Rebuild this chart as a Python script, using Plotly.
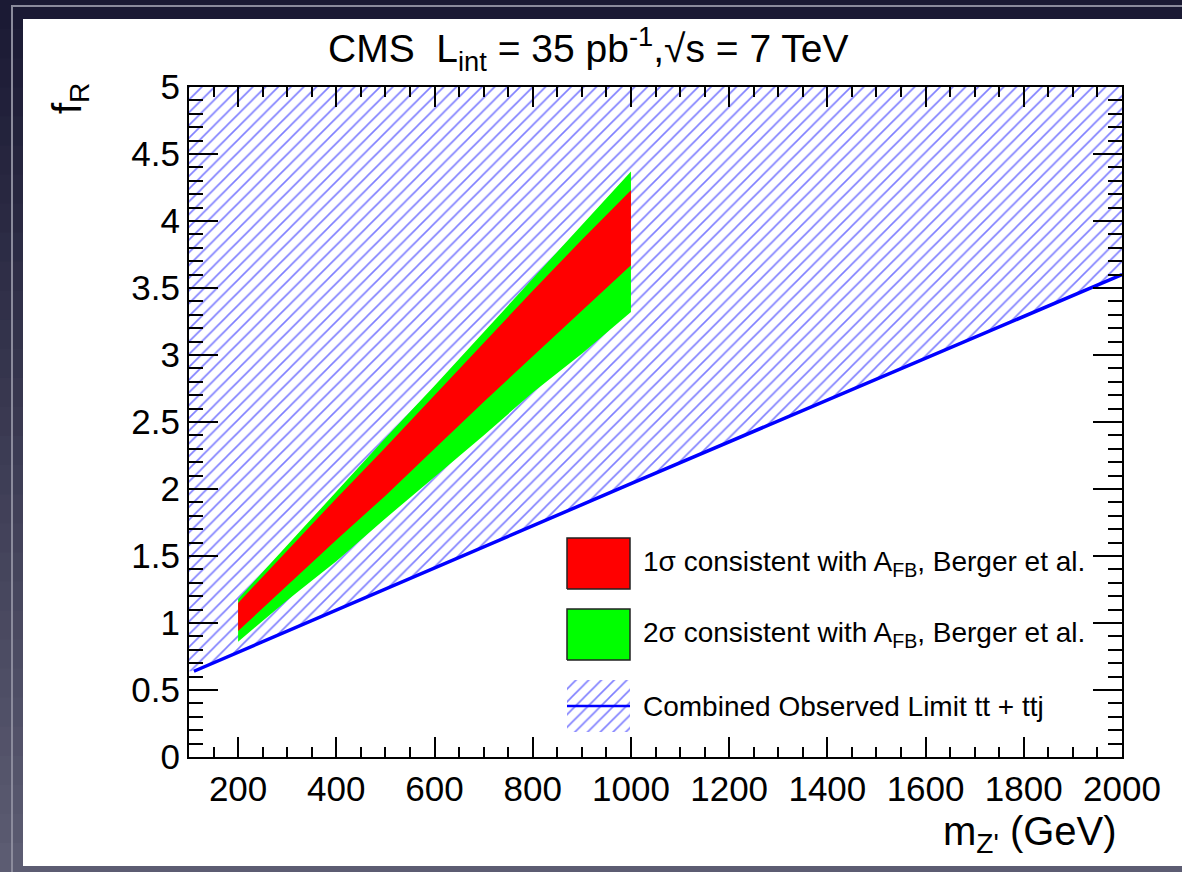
import plotly.graph_objects as go

# ---------------- data ----------------
mass = [200, 300, 400, 500, 600, 700, 800, 900, 1000]
two_sigma_hi = [1.18, 1.58, 1.98, 2.38, 2.77, 3.17, 3.57, 3.97, 4.37]
one_sigma_hi = [1.15, 1.54, 1.93, 2.31, 2.70, 3.09, 3.48, 3.86, 4.23]
one_sigma_lo = [0.94, 1.28, 1.62, 1.95, 2.30, 2.65, 2.99, 3.33, 3.67]
two_sigma_lo = [0.86, 1.17, 1.46, 1.78, 2.09, 2.40, 2.72, 3.01, 3.32]

limit_mass = [110, 1000, 2000]
limit_fr = [0.64, 2.04, 3.60]

x_range = [100, 2000]
y_range = [0, 5]

legend_labels = [
    "1\u03c3 consistent with A<sub>FB</sub>, Berger et al.",
    "2\u03c3 consistent with A<sub>FB</sub>, Berger et al.",
    "Combined Observed Limit tt + ttj",
]
title_text = "CMS  L<sub>int</sub> = 35 pb<sup>-1</sup>,\u221As = 7 TeV"
x_title = "m<sub>Z'</sub> (GeV)"
y_title = "f<sub>R</sub>"

# ---------------- layout geometry ----------------
W_FIG, H_FIG = 1182, 872
L, R, T, B = 189, 1122, 87, 757
PW, PH = R - L, B - T
FONT = "Liberation Sans, Arial, Helvetica, sans-serif"
HATCH = dict(shape="/", fgcolor="#0000ff", bgcolor="rgba(0,0,0,0)", size=9, solidity=0.18)


def fx(p):
    return (p - L) / PW


def fy(p):
    return (B - p) / PH


fig = go.Figure()

# excluded (hatched) region above the observed limit
fig.add_trace(go.Scatter(
    x=[x_range[0]] + limit_mass + [x_range[1], x_range[0]],
    y=[limit_fr[0]] + limit_fr + [y_range[1], y_range[1]],
    fill="toself", fillcolor="rgba(0,0,0,0)", fillpattern=HATCH,
    mode="lines", line=dict(width=0), hoverinfo="skip", showlegend=False))

# 2 sigma band
fig.add_trace(go.Scatter(
    x=mass + mass[::-1], y=two_sigma_hi + two_sigma_lo[::-1],
    fill="toself", fillcolor="#00ff00", mode="lines", line=dict(width=0),
    showlegend=False))
# 1 sigma band
fig.add_trace(go.Scatter(
    x=mass + mass[::-1], y=one_sigma_hi + one_sigma_lo[::-1],
    fill="toself", fillcolor="#ff0000", mode="lines", line=dict(width=0),
    showlegend=False))
# limit line
fig.add_trace(go.Scatter(
    x=limit_mass, y=limit_fr, mode="lines",
    line=dict(color="#0000ff", width=3.5), showlegend=False))

# ---------------- custom legend (overlay axes, unit coords) ----------------
box_x0, box_x1 = fx(567), fx(630)
rows = [(538, 589), (609, 660), (680, 732)]
fills = ["#ff0000", "#00ff00", None]
for (ya, yb), col, lab in zip(rows, fills, legend_labels):
    y0, y1 = fy(yb), fy(ya)
    if col:
        fig.add_trace(go.Scatter(
            x=[box_x0, box_x1, box_x1, box_x0, box_x0], y=[y0, y0, y1, y1, y0],
            xaxis="x2", yaxis="y2", fill="toself", fillcolor=col, mode="lines",
            line=dict(color="#222222", width=1.5), showlegend=False, hoverinfo="skip"))
    else:
        fig.add_trace(go.Scatter(
            x=[box_x0, box_x1, box_x1, box_x0, box_x0], y=[y0, y0, y1, y1, y0],
            xaxis="x2", yaxis="y2", fill="toself", fillcolor="rgba(0,0,0,0)",
            fillpattern=HATCH, mode="lines", line=dict(width=0),
            showlegend=False, hoverinfo="skip"))
        ym = (y0 + y1) / 2
        fig.add_trace(go.Scatter(
            x=[box_x0, box_x1], y=[ym, ym], xaxis="x2", yaxis="y2", mode="lines",
            line=dict(color="#0000ff", width=2.5), showlegend=False, hoverinfo="skip"))
    fig.add_annotation(x=fx(641), y=(y0 + y1) / 2, xref="paper", yref="paper",
                       text=lab, showarrow=False, xanchor="left", yanchor="middle",
                       font=dict(family=FONT, size=28, color="black"))

# ---------------- background (slide photo frame) ----------------
shapes = []
top_c = (27, 26, 52)
bot_c = (92, 92, 114)
n = 30
for i in range(n):
    t = i / (n - 1)
    c = tuple(int(top_c[k] + (bot_c[k] - top_c[k]) * t) for k in range(3))
    ya = i * H_FIG / n
    yb = (i + 1) * H_FIG / n + 1
    shapes.append(dict(type="rect", xref="paper", yref="paper", layer="below",
                       x0=fx(-5), x1=fx(W_FIG + 5), y0=fy(yb), y1=fy(ya),
                       line=dict(width=0), fillcolor="rgb(%d,%d,%d)" % c))
shapes.append(dict(type="rect", xref="paper", yref="paper", layer="below",
                   x0=fx(12), x1=fx(W_FIG + 20), y0=fy(W_FIG), y1=fy(6),
                   line=dict(color="#8b8b9c", width=2), fillcolor="rgba(0,0,0,0)"))
shapes.append(dict(type="rect", xref="paper", yref="paper", layer="below",
                   x0=fx(23), x1=fx(W_FIG + 20), y0=fy(866), y1=fy(19),
                   line=dict(width=0), fillcolor="white"))

# ---------------- titles ----------------
fig.add_annotation(x=fx(588), y=fy(49), xref="paper", yref="paper", text=title_text,
                   showarrow=False, xanchor="center", yanchor="middle",
                   font=dict(family=FONT, size=39, color="black"))
fig.add_annotation(x=fx(1119), y=fy(834), xref="paper", yref="paper", text=x_title,
                   showarrow=False, xanchor="right", yanchor="middle",
                   font=dict(family=FONT, size=40, color="black"))
fig.add_annotation(x=fx(70), y=fy(98), xref="paper", yref="paper", text=y_title,
                   showarrow=False, textangle=-90, xanchor="center", yanchor="middle",
                   font=dict(family=FONT, size=40, color="black"))

axis_common = dict(showgrid=False, zeroline=False, showline=True, linecolor="black",
                   linewidth=2, mirror="allticks", ticks="inside", tickcolor="black",
                   tickwidth=2)

fig.update_layout(
    width=W_FIG, height=H_FIG, autosize=False,
    margin=dict(l=L, r=W_FIG - R, t=T, b=H_FIG - B, pad=0),
    paper_bgcolor="rgb(27,26,52)", plot_bgcolor="white",
    shapes=shapes, showlegend=False,
    xaxis=dict(range=x_range, tick0=200, dtick=200, ticklen=20,
               tickfont=dict(family=FONT, size=35, color="black"),
               minor=dict(dtick=50, tick0=100, ticklen=10, tickwidth=2, tickcolor="black", ticks="inside"),
               **axis_common),
    yaxis=dict(range=y_range, tick0=0, dtick=0.5, ticklen=29,
               tickfont=dict(family=FONT, size=35, color="black"),
               minor=dict(dtick=0.1, tick0=0, ticklen=14, tickwidth=2, tickcolor="black", ticks="inside"),
               **axis_common),
    xaxis2=dict(overlaying="x", range=[0, 1], visible=False, fixedrange=True),
    yaxis2=dict(overlaying="y", range=[0, 1], visible=False, fixedrange=True),
)

fig.write_html("out.html")
